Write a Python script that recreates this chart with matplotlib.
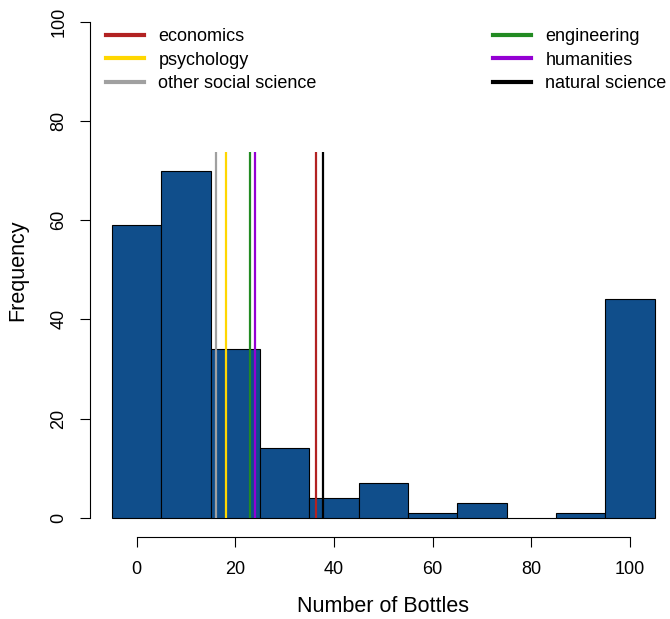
import matplotlib
matplotlib.use("Agg")
import matplotlib.pyplot as plt
from matplotlib.lines import Line2D

plt.rcParams['font.family'] = ['Liberation Sans', 'DejaVu Sans']

bin_edges = [-5, 5, 15, 25, 35, 45, 55, 65, 75, 85, 95, 105]
counts = [59, 70, 34, 14, 4, 7, 1, 3, 0, 1, 44]

groups = ["economics", "psychology", "other social science",
          "engineering", "humanities", "natural science"]
group_means = [36.4, 18.1, 16.1, 22.9, 23.9, 37.8]
group_colors = ["#B22222", "#FFD700", "#A0A0A0", "#228B22", "#9400D3", "#000000"]
line_top = 73.7

xticks = [0, 20, 40, 60, 80, 100]
yticks = [0, 20, 40, 60, 80, 100]

W, H = 670, 619
fig = plt.figure(figsize=(W / 100, H / 100), dpi=100)
px_left, px_right, px_top, px_bottom = 90, 670, 2, 537
ax = fig.add_axes([px_left / W, 1 - px_bottom / H,
                   (px_right - px_left) / W, (px_bottom - px_top) / H])

x0_px, x100_px = 136.7, 630
ppu = (x100_px - x0_px) / 100
ax.set_xlim((px_left - x0_px) / ppu, (px_right - x0_px) / ppu)
y0_px, y100_px = 517.7, 21.7
ppy = (y0_px - y100_px) / 100
ax.set_ylim((y0_px - px_bottom) / ppy, (y0_px - px_top) / ppy)

lefts = bin_edges[:-1]
widths = [b - a for a, b in zip(bin_edges[:-1], bin_edges[1:])]
ax.bar(lefts, counts, width=widths, align='edge', color="#104E8B",
       edgecolor="black", linewidth=0.8, zorder=2)

for m, c in zip(group_means, group_colors):
    ax.vlines(m, 0, line_top, colors=c, linewidth=1.6, zorder=3)

for s in ['top', 'right']:
    ax.spines[s].set_visible(False)
ax.spines['left'].set_bounds(0, 100)
ax.spines['bottom'].set_bounds(0, 100)
ax.spines['left'].set_linewidth(0.8)
ax.spines['bottom'].set_linewidth(0.8)

ax.set_xticks(xticks)
ax.set_yticks(yticks)
ax.tick_params(axis='both', length=7.2, width=0.8, labelsize=13)
ax.tick_params(axis='x', pad=10)
ax.tick_params(axis='y', pad=9, labelrotation=90)
for lab in ax.get_yticklabels():
    lab.set_va('center')

ax.set_xlabel("Number of Bottles", fontsize=15.5)
ax.set_ylabel("Frequency", fontsize=15.5)
ax.xaxis.set_label_coords((383 - px_left) / (px_right - px_left), -(607 - px_bottom) / (px_bottom - px_top))
ax.xaxis.label.set_va('center')
ax.yaxis.set_label_coords(-(px_left - 18) / (px_right - px_left), (px_bottom - 270) / (px_bottom - px_top))
ax.yaxis.label.set_va('center')

handles = [Line2D([0], [0], color=c, linewidth=3) for c in group_colors]
leg_kw = dict(loc='upper left', frameon=False, fontsize=13, handlelength=2.1,
              handletextpad=0.8, labelspacing=0.37, borderpad=0, borderaxespad=0,
              bbox_transform=fig.transFigure)
top_y = 1 - 28 / H
leg1 = ax.legend(handles[:3], groups[:3], bbox_to_anchor=(106 / W, top_y), **leg_kw)
ax.add_artist(leg1)
ax.legend(handles[3:], groups[3:], bbox_to_anchor=(493 / W, top_y), **leg_kw)

fig.savefig("out.png", dpi=100)
